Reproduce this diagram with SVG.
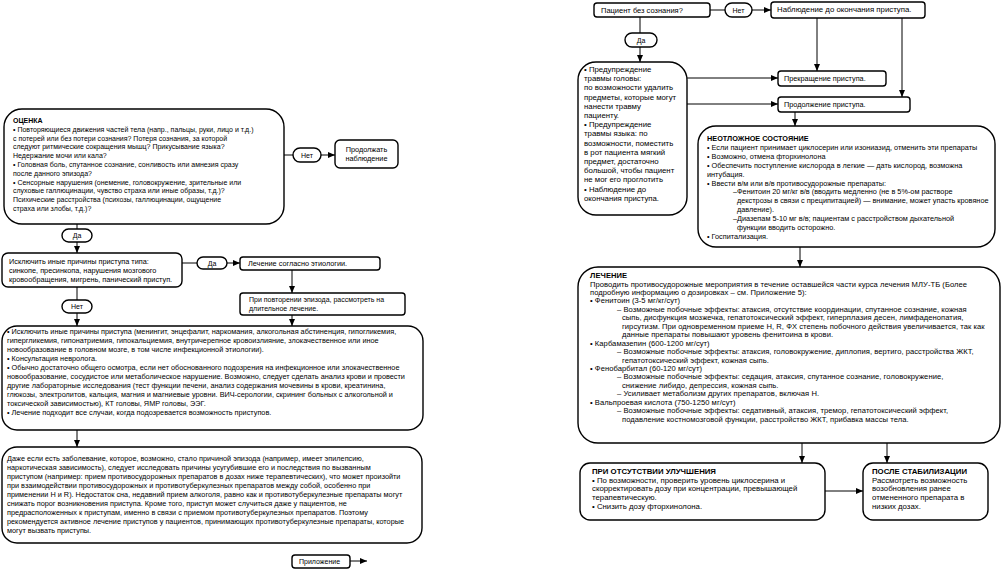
<svg xmlns="http://www.w3.org/2000/svg" width="1002" height="571" viewBox="0 0 1002 571">
<style>
.bx{fill:#fff;stroke:#000;stroke-width:1.4}
.pl{fill:#fff;stroke:#000;stroke-width:1.4}
.t{font-family:"Liberation Sans",Arial,sans-serif;font-size:7px;fill:#000}
.f73{font-size:7.3px}
.f75{font-size:7.5px}
.f78{font-size:7.8px}
.fl{font-size:7.6px;letter-spacing:0.05px}
.h{font-weight:bold}
.c{text-anchor:middle}
.ln{stroke:#000;stroke-width:1;fill:none}
.ar{marker-end:url(#ah)}
</style>
<defs>
<marker id="ah" markerUnits="userSpaceOnUse" markerWidth="7" markerHeight="6" refX="7" refY="3" orient="auto">
<path d="M0,0 L7,3 L0,6 z" fill="#000"/>
</marker>
</defs>
<rect width="1002" height="571" fill="#fff"/>

<g id="connectors">
<line class="ln" x1="284" y1="155" x2="293" y2="155"/>
<line class="ln ar" x1="321" y1="155" x2="335" y2="155"/>
<line class="ln" x1="77" y1="224" x2="77" y2="229"/>
<line class="ln ar" x1="77" y1="242" x2="77" y2="253"/>
<line class="ln" x1="182" y1="263" x2="197" y2="263"/>
<line class="ln ar" x1="227" y1="263" x2="240" y2="263"/>
<line class="ln ar" x1="292" y1="270" x2="292" y2="293"/>
<line class="ln" x1="77" y1="287" x2="77" y2="300"/>
<line class="ln ar" x1="77" y1="313" x2="77" y2="326"/>
<line class="ln ar" x1="292" y1="315" x2="292" y2="326"/>
<line class="ln ar" x1="77" y1="430" x2="77" y2="447"/>
<line class="ln ar" x1="350" y1="561" x2="367" y2="561"/>
<line class="ln" x1="710" y1="10" x2="725" y2="10"/>
<line class="ln ar" x1="752" y1="10" x2="771" y2="10"/>
<line class="ln" x1="640" y1="17" x2="640" y2="33"/>
<line class="ln ar" x1="640" y1="47" x2="640" y2="62"/>
<line class="ln ar" x1="687" y1="78" x2="778" y2="78"/>
<line class="ln ar" x1="687" y1="104" x2="778" y2="104"/>
<line class="ln ar" x1="817" y1="18" x2="817" y2="71"/>
<line class="ln ar" x1="902" y1="18" x2="902" y2="97"/>
<line class="ln ar" x1="795" y1="112" x2="795" y2="126"/>
<line class="ln ar" x1="800" y1="247" x2="800" y2="267"/>
<line class="ln ar" x1="802" y1="443" x2="802" y2="463"/>
<line class="ln ar" x1="887" y1="443" x2="887" y2="463"/>
<line class="ln ar" x1="825" y1="491" x2="863" y2="491"/>
</g>

<g id="ocenka">
<rect class="bx" x="4" y="109" width="280" height="115" rx="18"/>
<text class="t" x="13"><tspan class="h" x="13" y="123">ОЦЕНКА</tspan><tspan x="13" y="131.8">• Повторяющиеся движения частей тела (напр., пальцы, руки, лицо и т.д.)</tspan><tspan x="13" y="140.6">с потерей или без потери сознания? Потеря сознания, за которой</tspan><tspan x="13" y="149.4">следуют ритмические сокращения мышц? Прикусывание языка?</tspan><tspan x="13" y="158.2">Недержание мочи или кала?</tspan><tspan x="13" y="167">• Головная боль, спутанное сознание, сонливость или амнезия сразу</tspan><tspan x="13" y="175.8">после данного эпизода?</tspan><tspan x="13" y="184.6">• Сенсорные нарушения (онемение, головокружение, зрительные или</tspan><tspan x="13" y="193.4">слуховые галлюцинации, чувство страха или иные образы, т.д.)?</tspan><tspan x="13" y="202.2">Психические расстройства (психозы, галлюцинации, ощущение</tspan><tspan x="13" y="211">страха или злобы, т.д.)?</tspan></text>
</g>

<g id="net1">
<rect class="pl" x="293" y="148" width="28" height="14" rx="7"/>
<text class="t c" x="307" y="157.5">Нет</text>
</g>

<g id="prodolzhat">
<rect class="bx" x="335" y="140" width="63" height="28" rx="5"/>
<text class="t c f73"><tspan x="366.5" y="152">Продолжать</tspan><tspan x="366.5" y="161">наблюдение</tspan></text>
</g>

<g id="da1">
<rect class="pl" x="62" y="229" width="30" height="13" rx="6.5"/>
<text class="t c" x="77" y="238">Да</text>
</g>

<g id="isklyuchit">
<rect class="bx" x="2" y="253" width="180" height="34" rx="6"/>
<text class="t f73"><tspan x="9" y="264">Исключить иные причины приступа типа:</tspan><tspan x="9" y="273">синкопе, пресинкопа, нарушения мозгового</tspan><tspan x="9" y="282">кровообращения, мигрень, панический приступ.</tspan></text>
</g>

<g id="da2">
<rect class="pl" x="197" y="257" width="30" height="12" rx="6"/>
<text class="t c" x="212" y="265.5">Да</text>
</g>

<g id="lechenie-etiol">
<rect class="bx" x="240" y="257" width="140" height="13" rx="3"/>
<text class="t f73" x="248" y="266">Лечение согласно этиологии.</text>
</g>

<g id="povtor">
<rect class="bx" x="240" y="293" width="165" height="22" rx="3"/>
<text class="t"><tspan x="249" y="302">При повторении эпизода, рассмотреть на</tspan><tspan x="249" y="311">длительное лечение.</tspan></text>
</g>

<g id="net2">
<rect class="pl" x="62" y="300" width="30" height="13" rx="6.5"/>
<text class="t c" x="77" y="309">Нет</text>
</g>

<g id="iskl-prichiny">
<rect class="bx" x="2" y="326" width="421" height="104" rx="15"/>
<text class="t f73"><tspan x="7" y="334">• Исключить иные причины приступа (менингит, энцефалит, наркомания, алкогольная абстиненция, гипогликемия,</tspan><tspan x="7" y="343">гипергликемия, гипонатриемия, гипокальциемия, внутричерепное кровоизлияние, злокачественное или иное</tspan><tspan x="7" y="352">новообразование в головном мозге, в том числе инфекционной этиологии).</tspan><tspan x="7" y="361">• Консультация невролога.</tspan><tspan x="7" y="370">• Обычно достаточно общего осмотра, если нет обоснованного подозрения на инфекционное или злокачественное</tspan><tspan x="7" y="379">новообразование, сосудистое или метаболическое нарушение. Возможно, следует сделать анализ крови и провести</tspan><tspan x="7" y="388">другие лабораторные исследования (тест функции печени, анализ содержания мочевины в крови, креатинина,</tspan><tspan x="7" y="397">глюкозы, электролитов, кальция, магния и магниевые уровни. ВИЧ-серологии, скрининг больных с алкогольной и</tspan><tspan x="7" y="406">токсической зависимостью), КТ головы, ЯМР головы, ЭЭГ.</tspan><tspan x="7" y="415">• Лечение подходит все случаи, когда подозревается возможность приступов.</tspan></text>
</g>

<g id="dazhe">
<rect class="bx" x="2" y="447" width="420" height="96" rx="15"/>
<text class="t f73"><tspan x="7" y="460.5">Даже если есть заболевание, которое, возможно, стало причиной эпизода (например, имеет эпилепсию,</tspan><tspan x="7" y="469.6">наркотическая зависимость), следует исследовать причины усугубившие его и последствия по вызванным</tspan><tspan x="7" y="478.7">приступом (например: прием противосудорожных препаратов в дозах ниже терапевтических), что может произойти</tspan><tspan x="7" y="487.8">при взаимодействии противосудорожных и противотуберкулезных препаратов между собой, особенно при</tspan><tspan x="7" y="496.9">применении H и R). Недостаток сна, недавний прием алкоголя, равно как и противотуберкулезные препараты могут</tspan><tspan x="7" y="506">снижать порог возникновения приступа. Кроме того, приступ может случиться даже у пациентов, не</tspan><tspan x="7" y="515.1">предрасположенных к приступам, именно в связи с приемом противотуберкулезных препаратов. Поэтому</tspan><tspan x="7" y="524.2">рекомендуется активное лечение приступов у пациентов, принимающих противотуберкулезные препараты, которые</tspan><tspan x="7" y="533.3">могут вызвать приступы.</tspan></text>
</g>

<g id="prilozhenie">
<rect class="bx" x="292" y="555" width="58" height="13" rx="3"/>
<text class="t" x="299" y="564">Приложение</text>
</g>

<g id="pacient">
<rect class="bx" x="594" y="3" width="116" height="14" rx="3"/>
<text class="t f75" x="601" y="12.5">Пациент без сознания?</text>
</g>

<g id="net3">
<rect class="pl" x="725" y="3" width="27" height="14" rx="7"/>
<text class="t c" x="738.5" y="12.5">Нет</text>
</g>

<g id="nablyudenie">
<rect class="bx" x="771" y="2" width="154" height="16" rx="3"/>
<text class="t f78" x="777" y="11.5">Наблюдение до окончания приступа.</text>
</g>

<g id="da3">
<rect class="pl" x="625" y="33" width="32" height="14" rx="7"/>
<text class="t c" x="641" y="42.5">Да</text>
</g>

<g id="preduprezhdenie">
<rect class="bx" x="578" y="62" width="109" height="153" rx="18"/>
<text class="t f78"><tspan x="584" y="72">• Предупреждение</tspan><tspan x="584" y="81.2">травмы головы:</tspan><tspan x="584" y="90.4">по возможности удалить</tspan><tspan x="584" y="99.6">предметы, которые могут</tspan><tspan x="584" y="108.8">нанести травму</tspan><tspan x="584" y="118">пациенту.</tspan><tspan x="584" y="127.2">• Предупреждение</tspan><tspan x="584" y="136.4">травмы языка: по</tspan><tspan x="584" y="145.6">возможности, поместить</tspan><tspan x="584" y="154.8">в рот пациента мягкий</tspan><tspan x="584" y="164">предмет, достаточно</tspan><tspan x="584" y="173.2">большой, чтобы пациент</tspan><tspan x="584" y="182.4">не мог его проглотить</tspan><tspan x="584" y="191.6">• Наблюдение до</tspan><tspan x="584" y="200.8">окончания приступа.</tspan></text>
</g>

<g id="prekrashchenie">
<rect class="bx" x="778" y="71" width="108" height="15" rx="3"/>
<text class="t f73" x="784" y="80.5">Прекращение приступа.</text>
</g>

<g id="prodolzhenie">
<rect class="bx" x="778" y="97" width="132" height="15" rx="3"/>
<text class="t f73" x="784" y="106.5">Продолжение приступа.</text>
</g>

<g id="neotlozhnoe">
<rect class="bx" x="698" y="126" width="297" height="121" rx="18"/>
<text class="t f73"><tspan class="h" x="707" y="141">НЕОТЛОЖНОЕ СОСТОЯНИЕ</tspan><tspan x="707" y="149.9">• Если пациент принимает циклосерин или изониазид, отменить эти препараты</tspan><tspan x="707" y="158.8">• Возможно, отмена фторхинолона</tspan><tspan x="707" y="167.7">• Обеспечить поступление кислорода в легкие — дать кислород, возможна</tspan><tspan x="707" y="176.6">интубация.</tspan><tspan x="707" y="185.5">• Ввести в/м или в/в противосудорожные препараты:</tspan><tspan x="733" y="194.4">–Фенитоин 20 мг/кг в/в (вводить медленно (не в 5%-ом растворе</tspan><tspan x="737" y="203.3">декстрозы в связи с преципитацией) — внимание, может упасть кровяное</tspan><tspan x="737" y="212.2">давление).</tspan><tspan x="733" y="221.1">–Диазепам 5-10 мг в/в; пациентам с расстройством дыхательной</tspan><tspan x="737" y="230">функции вводить осторожно.</tspan><tspan x="707" y="238.9">• Госпитализация.</tspan></text>
</g>

<g id="lechenie">
<rect class="bx" x="578" y="267" width="422" height="176" rx="20"/>
<text class="t fl"><tspan class="h" x="590" y="278">ЛЕЧЕНИЕ</tspan><tspan x="590" y="286.5">Проводить противосудорожные мероприятия в течение оставшейся части курса лечения МЛУ-ТБ (Более</tspan><tspan x="590" y="294.9">подробную информацию о дозировках – см. Приложение 5):</tspan><tspan x="590" y="303.4">• Фенитоин (3-5 мг/кг/сут)</tspan><tspan x="617" y="311.8">– Возможные побочные эффекты: атаксия, отсутствие координации, спутанное сознание, кожная</tspan><tspan x="622" y="320.3">сыпь, дисфункция мозжечка, гепатотоксический эффект, гиперплазия десен, лимфаденопатия,</tspan><tspan x="622" y="328.7">гирсутизм. При одновременном приеме H, R, ФХ степень побочного действия увеличивается, так как</tspan><tspan x="622" y="337.2">данные препараты повышают уровень фенитоина в крови.</tspan><tspan x="590" y="345.6">• Карбамазепин (600-1200 мг/сут)</tspan><tspan x="617" y="354.1">– Возможные побочные эффекты: атаксия, головокружение, диплопия, вертиго, расстройства ЖКТ,</tspan><tspan x="622" y="362.5">гепатотоксический эффект, кожная сыпь.</tspan><tspan x="590" y="371">• Фенобарбитал (60-120 мг/сут)</tspan><tspan x="617" y="379.4">– Возможные побочные эффекты: седация, атаксия, спутанное сознание, головокружение,</tspan><tspan x="622" y="387.9">снижение либидо, депрессия, кожная сыпь.</tspan><tspan x="617" y="396.3">– Усиливает метаболизм других препаратов, включая H.</tspan><tspan x="590" y="404.8">• Вальпроевая кислота (750-1250 мг/сут)</tspan><tspan x="617" y="413.2">– Возможные побочные эффекты: седативный, атаксия, тремор, гепатотоксический эффект,</tspan><tspan x="622" y="421.7">подавление костномозговой функции, расстройство ЖКТ, прибавка массы тела.</tspan></text>
</g>

<g id="net-uluchsheniya">
<rect class="bx" x="580" y="463" width="245" height="57" rx="10"/>
<text class="t f78"><tspan class="h" x="592" y="474">ПРИ ОТСУТСТВИИ УЛУЧШЕНИЯ</tspan><tspan x="592" y="482.7">• По возможности, проверить уровень циклосерина и</tspan><tspan x="592" y="491.4">скорректировать дозу при концентрации, превышающей</tspan><tspan x="592" y="500.1">терапевтическую.</tspan><tspan x="592" y="508.8">• Снизить дозу фторхинолона.</tspan></text>
</g>

<g id="posle-stabilizacii">
<rect class="bx" x="863" y="463" width="125" height="57" rx="10"/>
<text class="t f78"><tspan class="h" x="872" y="474">ПОСЛЕ СТАБИЛИЗАЦИИ</tspan><tspan x="872" y="482.7">Рассмотреть возможность</tspan><tspan x="872" y="491.4">возобновления ранее</tspan><tspan x="872" y="500.1">отмененного препарата в</tspan><tspan x="872" y="508.8">низких дозах.</tspan></text>
</g>
</svg>
